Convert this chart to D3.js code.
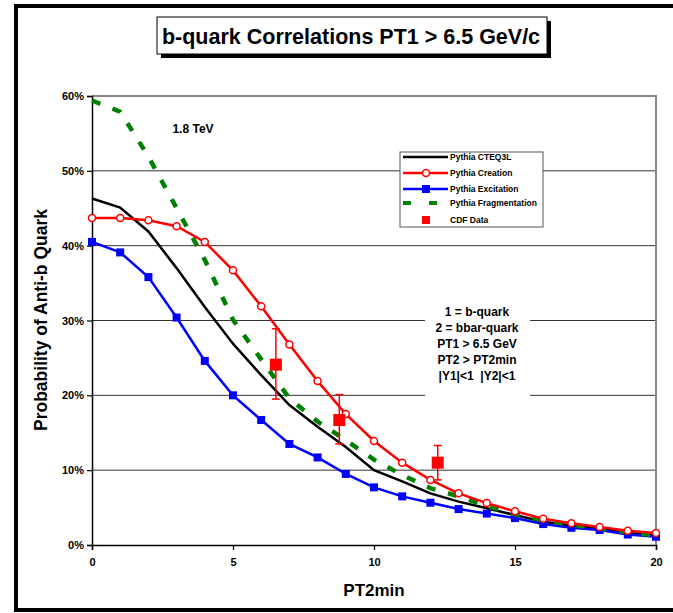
<!DOCTYPE html>
<html>
<head>
<meta charset="utf-8">
<script src="https://cdn.jsdelivr.net/npm/d3@7"></script>
<style>
  body { margin: 0; background: #fff; }
  svg { font-family: Arial, "Liberation Sans", sans-serif; font-weight: bold; }
</style>
</head>
<body>
<script>
var WIDTH = 673, HEIGHT = 613;
var MARGIN = {left: 92, right: 17, top: 96, bottom: 68};

// data (percent)
var pt2min = [0,1,2,3,4,5,6,7,8,9,10,11,12,13,14,15,16,17,18,19,20];
var cteq3l = [46.3,45.1,41.9,37.0,31.8,26.9,22.7,18.7,15.8,13.1,10.0,8.5,6.9,5.8,4.9,4.0,3.1,2.6,2.2,1.6,1.3];
var creation = [43.7,43.7,43.4,42.6,40.5,36.7,31.9,26.8,21.9,17.5,13.9,11.0,8.7,6.9,5.6,4.5,3.5,2.9,2.4,1.9,1.6];
var excitation = [40.5,39.1,35.8,30.4,24.6,20.0,16.7,13.5,11.7,9.5,7.7,6.5,5.65,4.8,4.2,3.6,2.8,2.3,2.0,1.4,1.1];
var fragmentation = [59.4,57.9,51.9,45.0,38.1,30.1,24.8,19.6,16.5,14.0,11.4,9.35,7.6,6.5,5.2,4.1,3.3,2.7,2.2,1.7,1.3];
var cdfX = [6.52, 8.77, 12.26];
var cdfY = [24.1, 16.7, 11.0];
var cdfHi = [28.9, 20.1, 13.3];
var cdfLo = [19.5, 13.5, 8.7];
var yTicks = [0,10,20,30,40,50,60];
var xTicks = [0,5,10,15,20];
var legendNames = ["Pythia CTEQ3L","Pythia Creation","Pythia Excitation","Pythia Fragmentation","CDF Data"];
var noteLines = ["1 = b-quark","2 = bbar-quark","PT1 > 6.5 GeV","PT2 > PT2min","|Y1|<1  |Y2|<1"];

var _svg = d3.select("body").append("svg")
    .attr("width", WIDTH)
    .attr("height", HEIGHT);

var _xScale = d3.scaleLinear().domain([0,20]).range([MARGIN.left, WIDTH - MARGIN.right]);
var _yScale = d3.scaleLinear().domain([0,60]).range([HEIGHT - MARGIN.bottom, MARGIN.top]);

// outer frame
_svg.append("rect")
    .attr("x", 16).attr("y", 6)
    .attr("width", 700).attr("height", 604)
    .attr("fill", "none").attr("stroke", "#000").attr("stroke-width", 4);

// title box with shadow
_svg.append("rect").attr("x", 161).attr("y", 21).attr("width", 390).attr("height", 37).attr("fill", "#000");
_svg.append("rect").attr("x", 157).attr("y", 17).attr("width", 390).attr("height", 37)
    .attr("fill", "#fff").attr("stroke", "#000").attr("stroke-width", 1);
_svg.append("text").attr("x", 351).attr("y", 44)
    .attr("text-anchor", "middle").attr("font-size", 21.5)
    .text("b-quark Correlations PT1 > 6.5 GeV/c");

// grid
_svg.append("g").selectAll("line").data(yTicks.slice(1, -1)).enter().append("line")
    .attr("x1", _xScale(0)).attr("x2", _xScale(20))
    .attr("y1", function(d){ return _yScale(d); })
    .attr("y2", function(d){ return _yScale(d); })
    .attr("stroke", "#333").attr("stroke-width", 1);

// plot area border (top/right gray)
_svg.append("path")
    .attr("d", "M" + _xScale(0) + "," + _yScale(60) + "H" + _xScale(20) + "V" + _yScale(0))
    .attr("fill", "none").attr("stroke", "#888").attr("stroke-width", 2);

// axes
var yAxis = d3.axisLeft(_yScale).tickValues(yTicks).tickSize(5).tickFormat(function(d){ return d + "%"; });
var xAxis = d3.axisBottom(_xScale).tickValues(xTicks).tickSize(5);
var gy = _svg.append("g").attr("transform", "translate(" + _xScale(0) + ",0)").call(yAxis);
var gx = _svg.append("g").attr("transform", "translate(0," + _yScale(0) + ")").call(xAxis);
[gx, gy].forEach(function(g){
  g.select(".domain").attr("stroke", "#000").attr("stroke-width", 1.5);
  g.selectAll(".tick line").attr("stroke", "#000").attr("stroke-width", 1.2);
  g.selectAll("text").attr("font-size", 11).attr("font-weight", "bold")
    .attr("font-family", "Arial, 'Liberation Sans', sans-serif").attr("fill", "#000");
});
gy.selectAll("text").attr("x", -8);
gx.selectAll("text").attr("y", 13);

// axis titles
_svg.append("text").attr("x", 374).attr("y", 596)
    .attr("text-anchor", "middle").attr("font-size", 17).text("PT2min");
_svg.append("text").attr("transform", "translate(47,320) rotate(-90)")
    .attr("text-anchor", "middle").attr("font-size", 17.5).text("Probability of Anti-b Quark");

// annotations
_svg.append("text").attr("x", 193).attr("y", 133)
    .attr("text-anchor", "middle").attr("font-size", 12).text("1.8 TeV");
_svg.append("rect").attr("x", 425).attr("y", 300).attr("width", 105).attr("height", 100).attr("fill", "#fff");
_svg.append("g").selectAll("text").data(noteLines).enter().append("text")
    .attr("x", 477)
    .attr("y", function(d, i){ return 316 + i * 16; })
    .attr("text-anchor", "middle").attr("font-size", 12)
    .attr("xml:space", "preserve")
    .text(function(d){ return d; });

// series
var line = d3.line()
    .x(function(d, i){ return _xScale(pt2min[i]); })
    .y(function(d){ return _yScale(d); });

_svg.append("path").attr("d", line(cteq3l))
    .attr("fill", "none").attr("stroke", "#000").attr("stroke-width", 2.5);

_svg.append("path").attr("d", line(excitation))
    .attr("fill", "none").attr("stroke", "#0000ff").attr("stroke-width", 2.5);
_svg.append("g").selectAll("rect").data(excitation).enter().append("rect")
    .attr("x", function(d, i){ return _xScale(pt2min[i]) - 4; })
    .attr("y", function(d){ return _yScale(d) - 4; })
    .attr("width", 8).attr("height", 8).attr("fill", "#0000ff");

_svg.append("path").attr("d", line(fragmentation))
    .attr("fill", "none").attr("stroke", "#008000").attr("stroke-width", 4.5)
    .attr("stroke-dasharray", "9,13");

_svg.append("path").attr("d", line(creation))
    .attr("fill", "none").attr("stroke", "#ff0000").attr("stroke-width", 2.5);
_svg.append("g").selectAll("circle").data(creation).enter().append("circle")
    .attr("cx", function(d, i){ return _xScale(pt2min[i]); })
    .attr("cy", function(d){ return _yScale(d); })
    .attr("r", 3.5).attr("fill", "#fff").attr("stroke", "#ff0000").attr("stroke-width", 1.5);

// CDF data with error bars
var cdf = _svg.append("g").selectAll("g").data(cdfX).enter().append("g");
cdf.append("line")
    .attr("x1", function(d){ return _xScale(d); }).attr("x2", function(d){ return _xScale(d); })
    .attr("y1", function(d, i){ return _yScale(cdfHi[i]); })
    .attr("y2", function(d, i){ return _yScale(cdfLo[i]); })
    .attr("stroke", "#ff0000").attr("stroke-width", 1.5);
[cdfHi, cdfLo].forEach(function(arr){
  cdf.append("line")
      .attr("x1", function(d){ return _xScale(d) - 4; }).attr("x2", function(d){ return _xScale(d) + 4; })
      .attr("y1", function(d, i){ return _yScale(arr[i]); })
      .attr("y2", function(d, i){ return _yScale(arr[i]); })
      .attr("stroke", "#ff0000").attr("stroke-width", 1.5);
});
cdf.append("rect")
    .attr("x", function(d){ return _xScale(d) - 6; })
    .attr("y", function(d, i){ return _yScale(cdfY[i]) - 6; })
    .attr("width", 12).attr("height", 12).attr("fill", "#ff0000");

// legend
var lg = _svg.append("g").attr("transform", "translate(400,152)");
lg.append("rect").attr("width", 143).attr("height", 75)
    .attr("fill", "#fff").attr("stroke", "#555").attr("stroke-width", 1);
var rows = lg.selectAll("g").data(legendNames).enter().append("g")
    .attr("transform", function(d, i){ return "translate(0," + [5, 21, 37, 51, 68][i] + ")"; });
rows.append("text").attr("x", 50).attr("y", 3).attr("font-size", 8.5).text(function(d){ return d; });
rows.filter(function(d, i){ return i < 3; }).append("line")
    .attr("x1", 3).attr("x2", 48).attr("y1", 0).attr("y2", 0)
    .attr("stroke", function(d, i){ return ["#000", "#ff0000", "#0000ff"][i]; })
    .attr("stroke-width", 2.5);
rows.filter(function(d, i){ return i === 1; }).append("circle")
    .attr("cx", 26).attr("cy", 0).attr("r", 3.5)
    .attr("fill", "#fff").attr("stroke", "#ff0000").attr("stroke-width", 1.5);
rows.filter(function(d, i){ return i === 2; }).append("rect")
    .attr("x", 22).attr("y", -4).attr("width", 8).attr("height", 8).attr("fill", "#0000ff");
rows.filter(function(d, i){ return i === 3; }).append("line")
    .attr("x1", 3).attr("x2", 38).attr("y1", 0).attr("y2", 0)
    .attr("stroke", "#008000").attr("stroke-width", 4).attr("stroke-dasharray", "8,18");
rows.filter(function(d, i){ return i === 4; }).append("rect")
    .attr("x", 22).attr("y", -4).attr("width", 8).attr("height", 8).attr("fill", "#ff0000");
</script>
</body>
</html>
